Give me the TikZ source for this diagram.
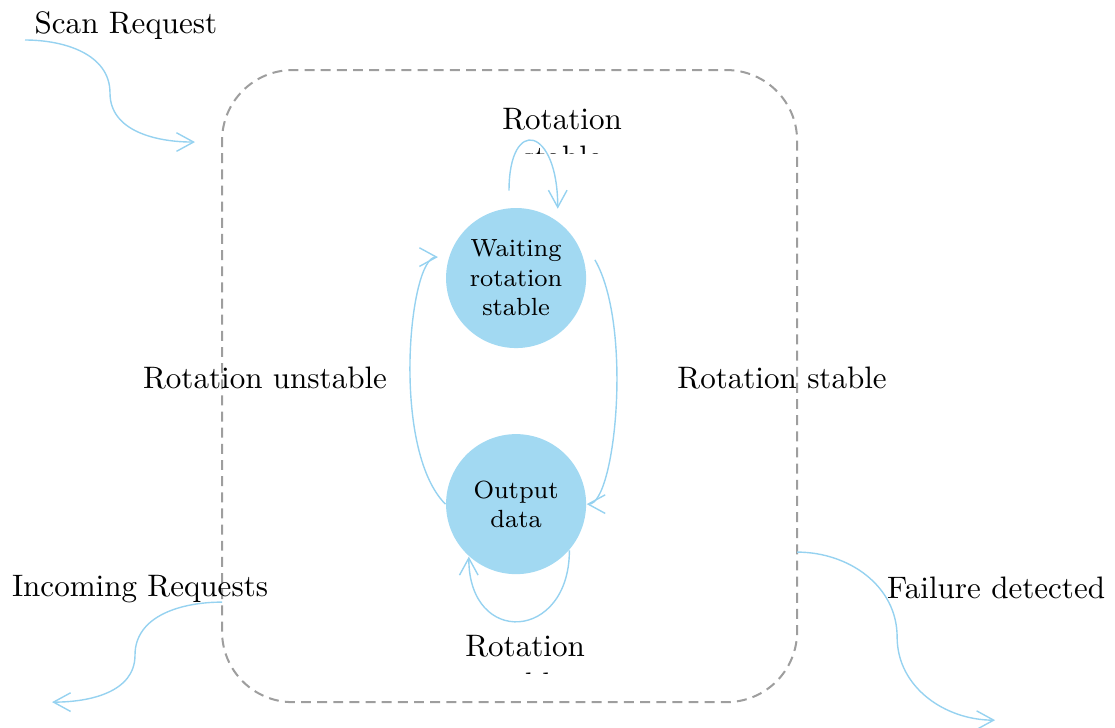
\documentclass[tikz,border=0pt]{standalone}
\definecolor{stateblue}{RGB}{162, 217, 242}
\definecolor{transblue}{RGB}{150, 210, 240}
\definecolor{framegray}{RGB}{158, 158, 158}
\usepackage{tikz}
\usetikzlibrary{arrows.meta, positioning, calc}

\begin{document}
\begin{tikzpicture}[
  state/.style={circle, fill=stateblue, minimum size=1.585cm, inner sep=0pt, align=center, font=\footnotesize},
  trans/.style={transblue, line width=0.45pt, -{Straight Barb[length=5.5pt, width=6pt]}},
  lab/.style={anchor=base, inner sep=0pt, align=center}
]
  \useasboundingbox (0, 0) rectangle (12.62, 8.23);

  % Superstate frame
  \draw[framegray, line width=0.65pt, dash pattern=on 3.2pt off 2pt, rounded corners=0.8cm]
    (2.513, 0.283) rectangle (9.022, 7.437);

  % States
  \node[state, outer sep=3.5pt] (wait) at (5.841, 5.083) {Waiting\\rotation\\stable};
  \node[state] (outdata) at (5.841, 2.524) {Output\\data};

  % Transitions between the states
  \draw[trans] (outdata.180) to[out=135, in=180, out looseness=0.8, in looseness=0.3] (wait.165);
  \draw[trans] (wait.13) to[out=-60, in=0, out looseness=0.8, in looseness=0.3] (outdata.0);
  \node[lab] (unstab) at (3.0, 3.837) {Rotation unstable};
  \node[lab] (stab) at (8.852, 3.837) {Rotation stable};

  % Self loops
  \draw[trans, shorten <=2.2pt] (wait.95) to[out=90, in=90, looseness=4.2] (wait.59);
  \draw[trans] (outdata.-41) to[out=-90, in=-90, looseness=2.3] (outdata.228);
  \begin{scope}
    \clip (4.5, 6.49) rectangle (7.5, 8.0);
    \node[lab] (looptop) at (6.362, 6.339) {Rotation\\stable};
  \end{scope}
  \begin{scope}
    \clip (4.5, 0.611) rectangle (7.5, 1.2);
    \node[lab] (loopbot) at (5.943, 0.374) {Rotation\\stable};
  \end{scope}

  % Entry and exit transitions
  \coordinate (scanA) at (0.283, 7.777);
  \coordinate (scanM) at (1.245, 7.177);
  \coordinate (scanB) at (2.207, 6.622);
  \coordinate (incA) at (2.513, 1.415);
  \coordinate (incM) at (1.528, 0.815);
  \coordinate (incB) at (0.589, 0.283);
  \coordinate (failA) at (9.022, 1.981);
  \coordinate (failM) at (10.154, 1.019);
  \coordinate (failB) at (11.263, 0.079);
  \draw[trans] (scanA) to[out=0, in=90] (scanM) to[out=-90, in=180] (scanB);
  \draw[trans] (incA) to[out=180, in=90] (incM) to[out=-90, in=0] (incB);
  \draw[trans] (failA) to[out=0, in=90] (failM) to[out=-90, in=180] (failB);
  \node[lab] (scan) at (1.426, 7.856) {Scan Request};
  \node[lab] (inc) at (1.585, 1.483) {Incoming Requests};
  \node[lab] (fail) at (11.275, 1.460) {Failure detected};
\end{tikzpicture}
\end{document}
